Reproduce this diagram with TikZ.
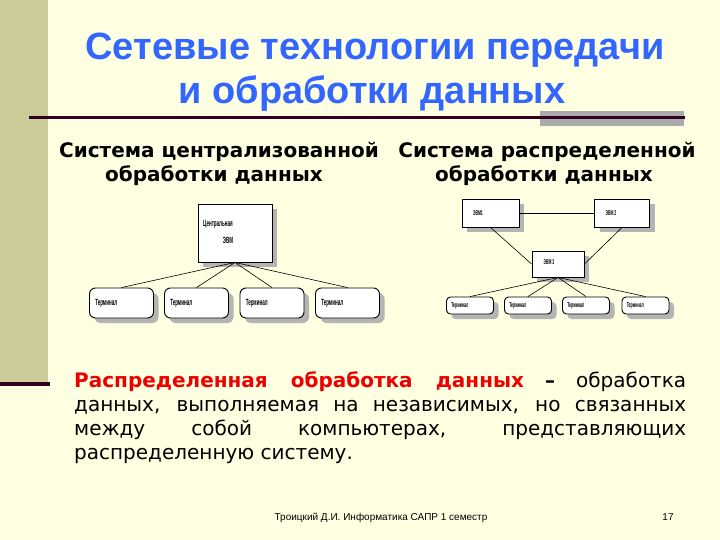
\documentclass[tikz,border=0pt]{standalone}
\usepackage{fontspec}
\usepackage{graphicx}
\setmainfont{DejaVu Sans}
\newfontfamily\arialf{Liberation Sans}
\usetikzlibrary{shadows,calc}
\definecolor{bg}{HTML}{FFFFE1}
\definecolor{barc}{HTML}{CCCC99}
\definecolor{dline}{HTML}{330022}
\definecolor{tblue}{HTML}{3366FF}
\definecolor{gbox}{HTML}{ABABAB}
\definecolor{shad}{HTML}{B4B4B4}
\definecolor{dred}{HTML}{EE0000}
\tikzset{
  ttl/.style={font=\arialf\bfseries\fontsize{38}{42}\selectfont, text=tblue, inner sep=0pt},
  sub/.style={font=\bfseries\fontsize{20}{24}\selectfont, inner sep=0pt},
  box/.style={draw=black, fill=white, line width=0.9pt, inner sep=0pt,
    drop shadow={shadow xshift=5pt, shadow yshift=-5pt, fill=shad, opacity=1}},
  term/.style={box, rounded corners=6pt},
  tiny/.style={font=\arialf\bfseries\fontsize{9}{10}\selectfont, inner sep=0pt},
  tinier/.style={font=\arialf\bfseries\fontsize{7}{8}\selectfont, inner sep=0pt},
  conn/.style={draw=black, line width=0.6pt},
}
\newcommand{\cond}[1]{\scalebox{0.5}[1]{#1}}
\begin{document}
\begin{tikzpicture}[x=1pt,y=-1pt]
\fill[bg] (0,0) rectangle (720,540);
\useasboundingbox (0,0) rectangle (720,540);
\fill[barc] (0,0) rectangle (48,382);
\fill[dline] (0,382) rectangle (50,386);
\fill[gbox] (540,111) rectangle (684,126);
\fill[dline] (29,116) rectangle (685,119);

\node[ttl, anchor=base] (t1) at (375,60) {Сетевые технологии передачи};
\node[ttl, anchor=base] (t2) at (372,104) {и обработки данных};

\node[sub, anchor=base] (s1) at (219,158) {Система централизованной};
\node[sub, anchor=base] (s2) at (214,182) {обработки данных};
\node[sub, anchor=base] (s3) at (547,158) {Система распределенной};
\node[sub, anchor=base] (s4) at (544,182) {обработки данных};

% centralized
\node[box, minimum width=74pt, minimum height=58pt] (c) at (235,233) {};
\node[tiny, anchor=west] (cl1) at (203,224) {\cond{Центральная}};
\node[tiny] (cl2) at (228,240) {\cond{ЭВМ}};
\foreach \i/\x in {1/121.5,2/196.5,3/272,4/347.5}{
  \node[term, minimum width=64pt, minimum height=30pt] (a\i) at (\x,303) {};
  \node[tiny, anchor=west] (al\i) at ($(a\i.west)+(6,0)$) {\cond{Терминал}};
  \draw[conn] (c.south) -- (a\i.north);
}

% distributed
\node[box, minimum width=57pt, minimum height=28pt] (e1) at (490.5,213) {};
\node[box, minimum width=55pt, minimum height=28pt] (e2) at (622,213) {};
\node[box, minimum width=52pt, minimum height=26pt] (e3) at (558,264) {};
\node[tinier] (el1) at (478,213) {\cond{ЭВМ1}};
\node[tinier] (el2) at (611,213) {\cond{ЭВМ 2}};
\node[tinier] (el3) at (549,262) {\cond{ЭВМ 3}};
\draw[conn] (e1.east) -- (e2.west);
\draw[conn] (e1.south) -- (e3.west);
\draw[conn] (e2.south) -- (e3.east);
\foreach \i/\x in {1/470,2/528,3/586,4/645.5}{
  \node[term, rounded corners=4pt, minimum width=47pt, minimum height=17pt] (b\i) at (\x,305.5) {};
  \node[tinier, anchor=west] (bl\i) at ($(b\i.west)+(5,0)$) {\cond{Терминал}};
  \draw[conn] (e3.south) -- (b\i.north);
}

\node[anchor=north west, inner sep=0pt, text width=612pt, align=justify,
  font=\fontsize{20}{24}\selectfont] (body) at (74,371)
  {\hyphenpenalty=10000\tolerance=10000\textcolor{dred}{\bfseries Распределенная обработка данных} \textbf{–} обработка\linebreak данных, выполняемая на независимых, но связанных\linebreak между собой компьютерах, представляющих\linebreak распределенную систему.};

\node[anchor=base, inner sep=0pt, font=\arialf\fontsize{10}{12}\selectfont] (f1) at (381,520) {Троицкий Д.И. Информатика САПР 1 семестр};
\node[anchor=base, inner sep=0pt, font=\arialf\fontsize{10}{12}\selectfont] (f2) at (668,520) {17};
\end{tikzpicture}
\end{document}
